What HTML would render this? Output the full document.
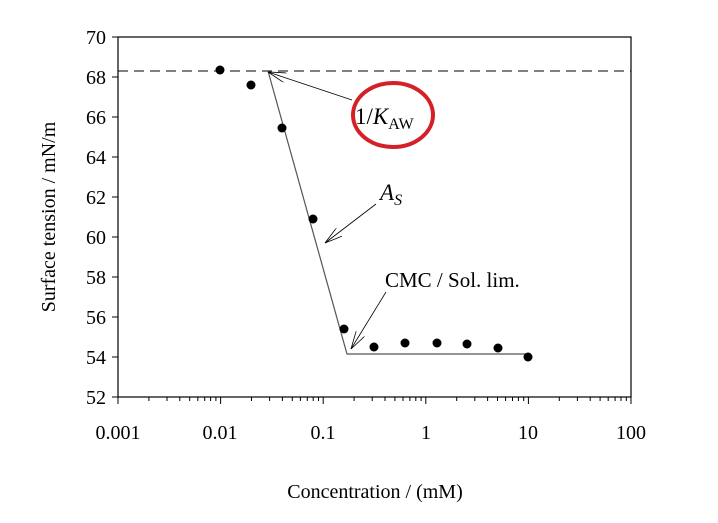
<!DOCTYPE html>
<html><head><style>body{margin:0;background:#fff}</style></head><body>
<svg width="718" height="518" xmlns="http://www.w3.org/2000/svg" font-family="Liberation Serif, serif">
<defs><marker id="a" markerWidth="18" markerHeight="10" refX="18" refY="5" orient="auto" markerUnits="userSpaceOnUse"><path d="M0,0 L18,5 L0,10" fill="none" stroke="#000" stroke-width="0.8"/></marker></defs>
<rect x="118" y="37" width="513" height="360" fill="none" stroke="#000" stroke-width="1.2"/>
<g stroke="#000" stroke-width="1">
<line x1="112" y1="37" x2="118" y2="37"/><line x1="112" y1="77" x2="118" y2="77"/><line x1="112" y1="117" x2="118" y2="117"/><line x1="112" y1="157" x2="118" y2="157"/><line x1="112" y1="197" x2="118" y2="197"/><line x1="112" y1="237" x2="118" y2="237"/><line x1="112" y1="277" x2="118" y2="277"/><line x1="112" y1="317" x2="118" y2="317"/><line x1="112" y1="357" x2="118" y2="357"/><line x1="112" y1="397" x2="118" y2="397"/>
</g>
<path stroke="#000" stroke-width="1" fill="none" d="
M118,397v7 M148.9,397v4 M167,397v4 M179.8,397v4 M189.7,397v4 M197.8,397v4 M204.7,397v4 M210.6,397v4 M215.9,397v4
M220.6,397v7 M251.5,397v4 M269.6,397v4 M282.4,397v4 M292.3,397v4 M300.4,397v4 M307.3,397v4 M313.2,397v4 M318.5,397v4
M323.2,397v7 M354.1,397v4 M372.2,397v4 M385,397v4 M394.9,397v4 M403,397v4 M409.9,397v4 M415.8,397v4 M421.1,397v4
M425.8,397v7 M456.7,397v4 M474.8,397v4 M487.6,397v4 M497.5,397v4 M505.6,397v4 M512.5,397v4 M518.4,397v4 M523.7,397v4
M528.4,397v7 M559.3,397v4 M577.4,397v4 M590.2,397v4 M600.1,397v4 M608.2,397v4 M615.1,397v4 M621,397v4 M626.3,397v4 M631,397v7"/>
<g font-size="20" text-anchor="end">
<text x="106" y="44">70</text><text x="106" y="84">68</text><text x="106" y="124">66</text><text x="106" y="164">64</text><text x="106" y="204">62</text><text x="106" y="244">60</text><text x="106" y="284">58</text><text x="106" y="324">56</text><text x="106" y="364">54</text><text x="106" y="404">52</text>
</g>
<g font-size="20" text-anchor="middle">
<text x="118" y="439">0.001</text><text x="220" y="439">0.01</text><text x="323" y="439">0.1</text><text x="426" y="439">1</text><text x="528" y="439">10</text><text x="631" y="439">100</text>
<text x="375" y="498">Concentration / (mM)</text>
<text transform="translate(55,217) rotate(-90)">Surface tension / mN/m</text>
</g>
<line x1="118" y1="71" x2="631" y2="71" stroke="#000" stroke-dasharray="10,6"/>
<polyline points="268,71 347,354 528,354" fill="none" stroke="#555" stroke-width="1.2"/>
<g fill="#000">
<circle cx="220" cy="70" r="4.5"/><circle cx="251" cy="85" r="4.5"/><circle cx="282" cy="128" r="4.5"/><circle cx="313" cy="219" r="4.5"/><circle cx="344" cy="329" r="4.5"/><circle cx="374" cy="347" r="4.5"/><circle cx="405" cy="343" r="4.5"/><circle cx="437" cy="343" r="4.5"/><circle cx="467" cy="344" r="4.5"/><circle cx="498" cy="348" r="4.5"/><circle cx="528" cy="357" r="4.5"/>
</g>
<g stroke="#000" stroke-width="0.8" fill="none">
<line x1="352" y1="100" x2="268" y2="72" marker-end="url(#a)"/>
<line x1="376" y1="204" x2="325" y2="243" marker-end="url(#a)"/>
<line x1="386" y1="292" x2="351" y2="349" marker-end="url(#a)"/>
</g>
<ellipse cx="393" cy="115" rx="40" ry="32" fill="none" stroke="#d42027" stroke-width="4"/>
<text x="355" y="124" font-size="23">1/<tspan font-style="italic">K</tspan><tspan font-size="16" dy="5">AW</tspan></text>
<text x="380" y="200" font-size="23" font-style="italic">A<tspan font-size="16" dy="5">S</tspan></text>
<text x="385" y="287" font-size="21">CMC / Sol. lim.</text>
</svg>
</body></html>
